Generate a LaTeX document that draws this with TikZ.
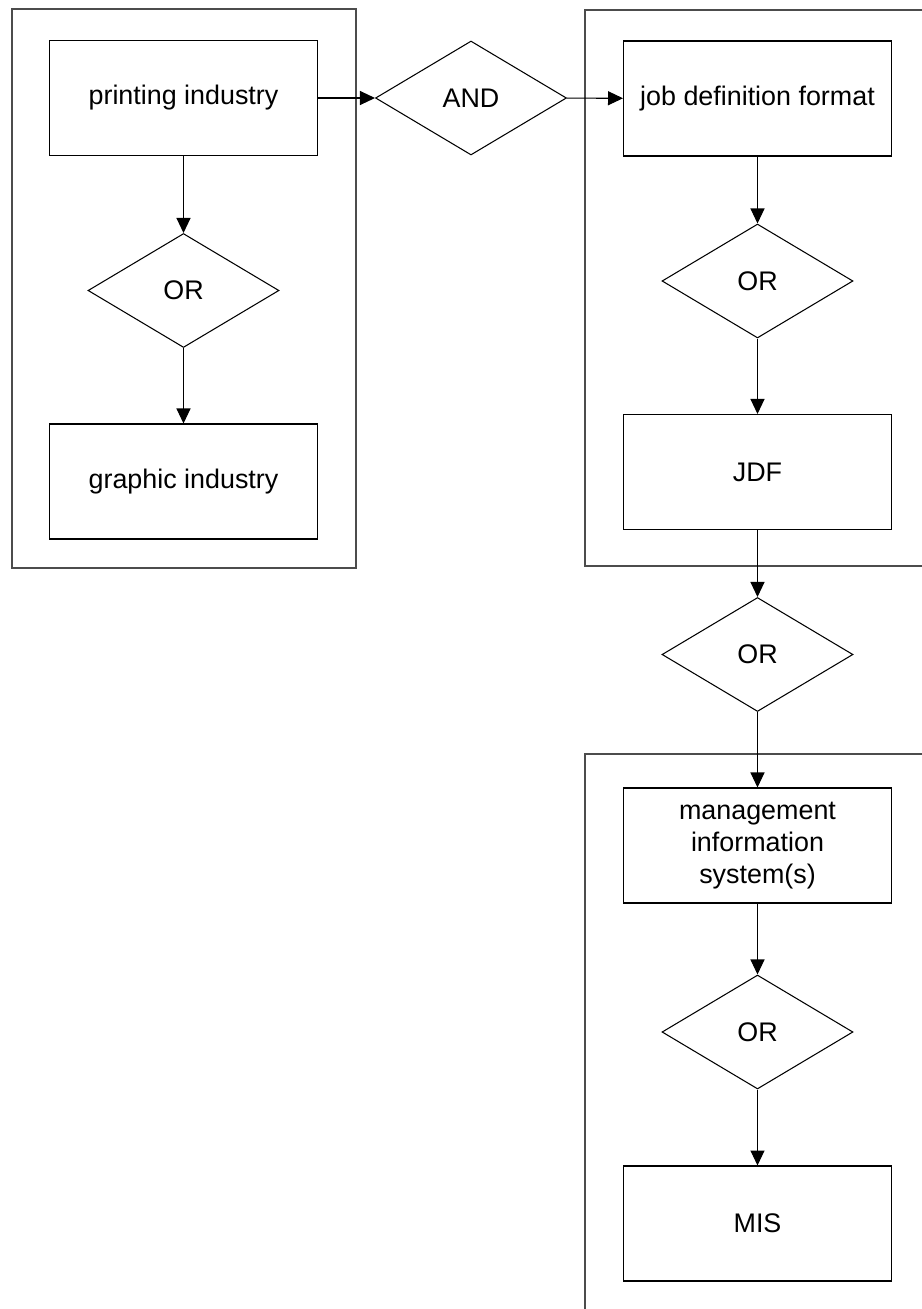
\documentclass[tikz,border=0pt]{standalone}
\usepackage{fontspec}
\setmainfont{Liberation Sans}
\usepackage{tikz}
\usetikzlibrary{positioning,shapes,arrows.meta,calc}

\tikzset{
  boxnode/.style={draw, line width=0.6pt, minimum width=5.36cm, minimum height=2.3cm, inner sep=2pt, align=center},
  gatenode/.style={draw, diamond, line width=0.6pt, minimum width=3.82cm, minimum height=2.28cm, inner sep=0pt},
  groupbox/.style={draw=black!70, line width=0.7pt},
  flow/.style={line width=0.6pt, -{Triangle[length=0.3cm,width=0.28cm]}}
}

\begin{document}
\begin{tikzpicture}[x=0.02cm, y=-0.02cm, font=\fontsize{15.3}{18.3}\selectfont]
\useasboundingbox (0,0) rectangle (922,1309);

% Group frames (right ones run off the page)
\begin{scope}
\clip (0,0) rectangle (922,1309);
\draw[groupbox] (12,9) rectangle (356,568);
\draw[groupbox] (585,10) rectangle (960,566);
\draw[groupbox] (585,1340) -- (585,754) -- (960,754);
\end{scope}

% Left column
\node[boxnode] (PI) at (183.5,98) {printing industry};
\node[gatenode] (ORL) at (183.5,290.5) {OR};
\node[boxnode] (GI) at (183.5,481.5) {graphic industry};

% Junction
\node[gatenode] (AND) at (471,98) {AND};

% Right column
\node[boxnode] (JDFlong) at (757.5,98.5) {job definition format};
\node[gatenode] (OR1) at (757.5,281) {OR};
\node[boxnode] (JDF) at (757.5,472) {JDF};
\node[gatenode] (OR2) at (757.5,654.5) {OR};
\node[boxnode] (MISlong) at (757.5,845.5) {management\\information\\system(s)};
\node[gatenode] (OR3) at (757.5,1032) {OR};
\node[boxnode] (MIS) at (757.5,1223.5) {MIS};

% Connectors
\draw[flow] (PI) -- (ORL);
\draw[flow] (ORL) -- (GI);
\draw[flow] (PI) -- (AND);
\draw[flow] (AND) -- (JDFlong);
\draw[flow] (JDFlong) -- (OR1);
\draw[flow] (OR1) -- (JDF);
\draw[flow] (JDF) -- (OR2);
\draw[flow] (OR2) -- (MISlong);
\draw[flow] (MISlong) -- (OR3);
\draw[flow] (OR3) -- (MIS);

\end{tikzpicture}
\end{document}
